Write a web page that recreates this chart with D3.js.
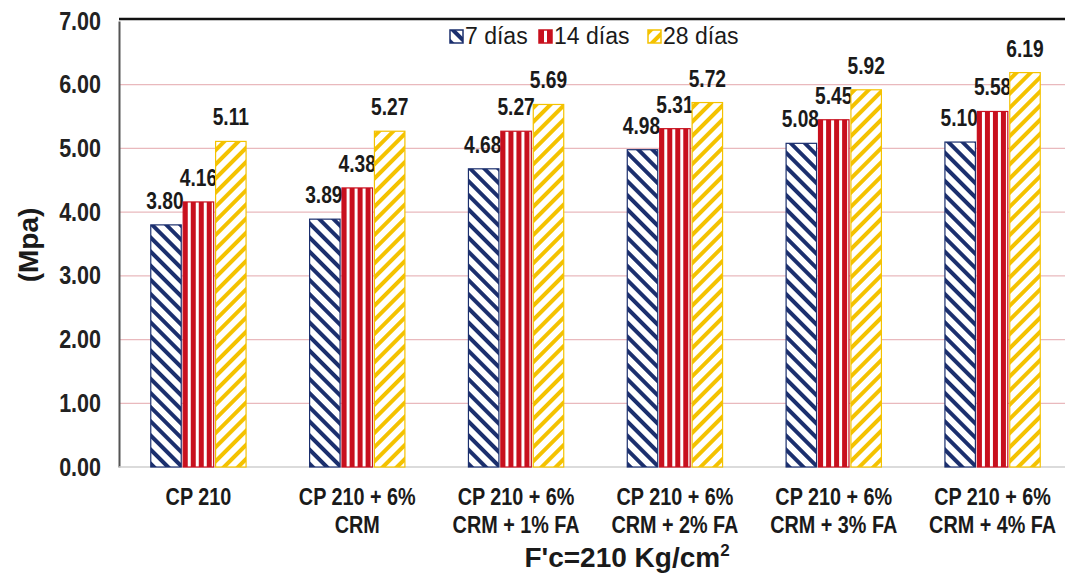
<!DOCTYPE html>
<html>
<head>
<meta charset="utf-8">
<script src="https://cdn.jsdelivr.net/npm/d3@7"></script>
<style>
  body { margin: 0; background: #fff; }
  text { font-family: "Liberation Sans", Arial, sans-serif; }
</style>
</head>
<body>
<div id="chart"></div>
<script>
// datos
var categorias = [
  ["CP 210"],
  ["CP 210 + 6%", "CRM"],
  ["CP 210 + 6%", "CRM + 1% FA"],
  ["CP 210 + 6%", "CRM + 2% FA"],
  ["CP 210 + 6%", "CRM + 3% FA"],
  ["CP 210 + 6%", "CRM + 4% FA"]
];
var series = ["7 días", "14 días", "28 días"];
var dias7  = [3.80, 3.89, 4.68, 4.98, 5.08, 5.10];
var dias14 = [4.16, 4.38, 5.27, 5.31, 5.45, 5.58];
var dias28 = [5.11, 5.27, 5.69, 5.72, 5.92, 6.19];
var yTicks = [0, 1, 2, 3, 4, 5, 6, 7];

var valores = [dias7, dias14, dias28];

var W = 1065, H = 581;
var svg = d3.select("#chart").append("svg")
  .attr("width", W).attr("height", H);

// el texto original es estrecho (tipo Arial Narrow), se comprime a lo ancho
function estrechar(sel, f) {
  sel.each(function() {
    var l = this.getComputedTextLength();
    d3.select(this).attr("textLength", l * f).attr("lengthAdjust", "spacingAndGlyphs");
  });
}

// patrones de relleno
var defs = svg.append("defs");
var p1 = defs.append("pattern").attr("id", "pat0")
  .attr("patternUnits", "userSpaceOnUse").attr("width", 10).attr("height", 10)
  .attr("patternTransform", "rotate(-45)");
p1.append("rect").attr("width", 10).attr("height", 10).attr("fill", "#fff");
p1.append("rect").attr("width", 4).attr("height", 10).attr("fill", "#1b2f6e");

var p2 = defs.append("pattern").attr("id", "pat1")
  .attr("patternUnits", "userSpaceOnUse").attr("width", 8).attr("height", 8);
p2.append("rect").attr("width", 8).attr("height", 8).attr("fill", "#fff");
p2.append("rect").attr("width", 5).attr("height", 8).attr("fill", "#c8101e");

var p3 = defs.append("pattern").attr("id", "pat2")
  .attr("patternUnits", "userSpaceOnUse").attr("width", 10).attr("height", 10)
  .attr("patternTransform", "rotate(45)");
p3.append("rect").attr("width", 10).attr("height", 10).attr("fill", "#fff");
p3.append("rect").attr("width", 4).attr("height", 10).attr("fill", "#f4c200");

var borde = ["#1b2f6e", "#c8101e", "#f4c200"];

var mLeft = 119, mRight = 1072, mTop = 21, mBottom = 467;

var x = d3.scaleBand()
  .domain(d3.range(categorias.length))
  .range([mLeft, mRight])
  .paddingInner(0.4).paddingOuter(0.2);

var xs = d3.scaleBand()
  .domain(d3.range(series.length))
  .range([0, x.bandwidth()])
  .paddingInner(0.06);

var y = d3.scaleLinear().domain([0, 7]).range([mBottom, mTop]);

// lineas de grilla
svg.append("g").selectAll("line")
  .data(yTicks.filter(function(d) { return d > 0 && d < 7; }))
  .enter().append("line")
  .attr("x1", mLeft).attr("x2", 1065)
  .attr("y1", function(d) { return y(d); })
  .attr("y2", function(d) { return y(d); })
  .attr("stroke", "#e9b9bd").attr("stroke-width", 1.2);

// borde superior
svg.append("line")
  .attr("x1", mLeft).attr("x2", 1065)
  .attr("y1", mTop - 2).attr("y2", mTop - 2)
  .attr("stroke", "#111").attr("stroke-width", 2.5);

// eje y
var yAxis = svg.append("g")
  .attr("transform", "translate(" + mLeft + ",0)")
  .call(d3.axisLeft(y).tickValues(yTicks).tickFormat(d3.format(".2f")).tickSize(0).tickPadding(18));
yAxis.select(".domain").attr("stroke", "#555").attr("stroke-width", 2);
yAxis.selectAll("text")
  .attr("font-size", 25).attr("font-weight", "bold").attr("fill", "#222")
  .attr("font-family", "'Liberation Sans', Arial, sans-serif")
  .call(estrechar, 0.86);

// linea base
svg.append("line")
  .attr("x1", mLeft).attr("x2", 1065)
  .attr("y1", y(0)).attr("y2", y(0))
  .attr("stroke", "#cfcfcf").attr("stroke-width", 1.5);

// barras
var grupos = svg.append("g").selectAll("g")
  .data(categorias)
  .enter().append("g")
  .attr("transform", function(d, i) { return "translate(" + x(i) + ",0)"; });

grupos.each(function(c, i) {
  var g = d3.select(this);
  series.forEach(function(s, j) {
    var v = valores[j][i];
    g.append("rect")
      .attr("x", xs(j)).attr("width", xs.bandwidth())
      .attr("y", y(v)).attr("height", y(0) - y(v))
      .attr("fill", "url(#pat" + j + ")")
      .attr("stroke", borde[j]).attr("stroke-width", 1.2);
    g.append("text")
      .attr("class", "valor")
      .attr("x", xs(j) + xs.bandwidth() / 2 - (j == 0 ? 1 : 0))
      .attr("y", y(v) - 16)
      .attr("text-anchor", "middle")
      .attr("font-size", 24).attr("font-weight", "bold").attr("fill", "#1a1a1a")
      .text(d3.format(".2f")(v));
  });
});
svg.selectAll("text.valor").call(estrechar, 0.8);

// etiquetas del eje x
svg.append("g").selectAll("text")
  .data(categorias)
  .enter().append("text")
  .attr("x", function(d, i) { return x(i) + x.bandwidth() / 2; })
  .attr("y", 505)
  .attr("text-anchor", "middle")
  .attr("font-size", 23).attr("font-weight", "bold").attr("fill", "#1a1a1a")
  .each(function(d) {
    var t = d3.select(this);
    d.forEach(function(linea, k) {
      t.append("tspan")
        .attr("x", t.attr("x"))
        .attr("dy", k == 0 ? 0 : 28)
        .text(linea);
    });
  })
  .selectAll("tspan").call(estrechar, 0.86);

// titulos de ejes
var tx = svg.append("text")
  .attr("x", 627).attr("y", 567)
  .attr("text-anchor", "middle")
  .attr("font-size", 28).attr("font-weight", "bold").attr("fill", "#1a1a1a");
tx.append("tspan").text("F'c=210 Kg/cm");
tx.append("tspan").attr("font-size", 17).attr("dy", -11).text("2");

svg.append("text")
  .attr("transform", "translate(38,245) rotate(-90)")
  .attr("text-anchor", "middle")
  .attr("font-size", 28).attr("font-weight", "bold").attr("fill", "#1a1a1a")
  .text("(Mpa)");

// leyenda
var legX = [450, 539, 648];
var leg = svg.append("g").selectAll("g")
  .data(series)
  .enter().append("g")
  .attr("transform", function(d, i) { return "translate(" + legX[i] + ",30)"; });
leg.append("rect")
  .attr("width", 13).attr("height", 13)
  .attr("fill", function(d, i) { return "url(#pat" + i + ")"; })
  .attr("stroke", function(d, i) { return borde[i]; }).attr("stroke-width", 1.5);
leg.append("text")
  .attr("x", 15).attr("y", 14)
  .attr("font-size", 23).attr("fill", "#1a1a1a")
  .text(function(d) { return d; });
</script>
</body>
</html>
